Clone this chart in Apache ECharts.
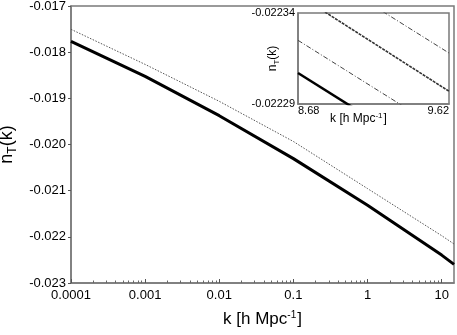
<!DOCTYPE html>
<html>
<head>
<meta charset="utf-8">
<script src="https://cdn.jsdelivr.net/npm/echarts@6/dist/echarts.min.js"></script>
<style>
  html, body { margin: 0; padding: 0; background: #fff; }
  #chart { width: 457px; height: 335px; }
</style>
</head>
<body>
<div id="chart"></div>
<script>
// main panel: k in h/Mpc (log axis), n_T(k)
const kValues = [0.0001, 0.001, 0.01, 0.1, 1, 10, 14.66];
const ntSolid = [-0.017766, -0.018526, -0.019376, -0.020306, -0.021316, -0.022396, -0.022596];
const ntDotted = [-0.017505, -0.018265, -0.019065, -0.019935, -0.020955, -0.021975, -0.022155];
const xMajorTicks = [0.0001, 0.001, 0.01, 0.1, 1, 10];
const xMinorTicks = [];
xMajorTicks.forEach((d) => { for (let m = 2; m <= 9; m++) xMinorTicks.push(+(d * m).toPrecision(3)); });

// inset: zoom near k ~ 9
const insetK = [8.68, 9.62];
const insetSolid = [-0.022307, -0.022255];
const insetDashDot1 = [-0.022325, -0.022273];
const insetDashed = [-0.022350, -0.022297];
const insetDashDot2 = [-0.022370, -0.022318];
const insetYTicks = [-0.02234, -0.02229];

const FONT = 'Liberation Sans';
const pair = (xs, ys) => xs.map((x, i) => [x, ys[i]]);
const noBounds = { outerBoundsMode: 'none', containLabel: false };

const chart = echarts.init(document.getElementById('chart'));

const option = {
  backgroundColor: '#fff',
  animation: false,
  textStyle: { fontFamily: FONT, color: '#000' },
  grid: [
    Object.assign({ left: 71, right: 3, top: 6, bottom: 52, show: true, borderColor: '#7a7a7a', borderWidth: 1.5, backgroundColor: '#fff' }, noBounds),
    Object.assign({ left: 298, top: 13, width: 151, height: 91, show: true, borderColor: '#7a7a7a', borderWidth: 1.5, backgroundColor: '#fff' }, noBounds)
  ],
  xAxis: [
    {
      type: 'log', gridIndex: 0, min: 0.0001, max: 14.66, logBase: 10,
      name: '{n|k [h Mpc}{p|-1}{n|]}', nameLocation: 'middle', nameGap: 27,
      nameTextStyle: {
        rich: {
          n: { fontSize: 17, fontFamily: FONT, color: '#000' },
          p: { fontSize: 10, fontFamily: FONT, color: '#000', padding: [0, 1, 9, 0] }
        }
      },
      axisLine: { lineStyle: { color: '#7a7a7a', width: 1.5 } },
      axisTick: { inside: true, length: 4, customValues: xMajorTicks, lineStyle: { color: '#555' } },
      axisLabel: {
        customValues: xMajorTicks, margin: 6, fontSize: 13, color: '#000', fontFamily: FONT,
        formatter: (v) => String(+(+v).toPrecision(6))
      },
      splitLine: { show: false }
    },
    {
      type: 'log', gridIndex: 0, min: 0.0001, max: 14.66, logBase: 10, position: 'bottom',
      axisLine: { show: false },
      axisTick: { inside: true, length: 2.5, customValues: xMinorTicks, lineStyle: { color: '#666' } },
      axisLabel: { show: false },
      splitLine: { show: false }
    },
    {
      type: 'value', gridIndex: 1, min: 8.68, max: 9.62,
      name: '{n|k [h Mpc}{p|-1}{n|]}', nameLocation: 'middle', nameGap: 8, nameMoveOverlap: false,
      nameTextStyle: {
        padding: [0, 30, 0, 0],
        rich: {
          n: { fontSize: 12, fontFamily: FONT, color: '#000' },
          p: { fontSize: 8, fontFamily: FONT, color: '#000', padding: [0, 1, 6, 0] }
        }
      },
      axisLine: { lineStyle: { color: '#7a7a7a', width: 1.5 } },
      axisTick: { show: false },
      axisLabel: {
        customValues: insetK, margin: 1, fontSize: 11, color: '#000', fontFamily: FONT,
        alignMinLabel: 'left', alignMaxLabel: 'right',
        formatter: (v) => v.toFixed(2)
      },
      splitLine: { show: false }
    }
  ],
  yAxis: [
    {
      type: 'value', gridIndex: 0, min: -0.023, max: -0.017, interval: 0.001,
      name: '{n|n}{s|T}{n|(k)}', nameLocation: 'middle', nameGap: 50,
      nameTextStyle: {
        rich: {
          n: { fontSize: 18, fontFamily: FONT, color: '#000', lineHeight: 20, verticalAlign: 'top' },
          s: { fontSize: 12, fontFamily: FONT, color: '#000', lineHeight: 12, verticalAlign: 'bottom' }
        }
      },
      axisLine: { lineStyle: { color: '#7a7a7a', width: 1.5 } },
      axisTick: { length: 3, lineStyle: { color: '#555' } },
      axisLabel: { margin: 5, fontSize: 13, color: '#000', fontFamily: FONT, formatter: (v) => v.toFixed(3) },
      splitLine: { show: false }
    },
    {
      type: 'value', gridIndex: 1, min: -0.02234, max: -0.02229, inverse: true,
      name: '{n|n}{s|T}{n|(k)}', nameLocation: 'middle', nameGap: 17, nameMoveOverlap: false,
      nameTextStyle: {
        rich: {
          n: { fontSize: 12, fontFamily: FONT, color: '#000', lineHeight: 14, verticalAlign: 'top' },
          s: { fontSize: 8, fontFamily: FONT, color: '#000', lineHeight: 8, verticalAlign: 'bottom' }
        }
      },
      axisLine: { lineStyle: { color: '#7a7a7a', width: 1.5 } },
      axisTick: { show: false },
      axisLabel: { customValues: insetYTicks, margin: 3, fontSize: 11, color: '#000', fontFamily: FONT, formatter: (v) => v.toFixed(5) },
      splitLine: { show: false }
    }
  ],
  series: [
    {
      type: 'line', xAxisIndex: 0, yAxisIndex: 0, data: pair(kValues, ntDotted),
      symbol: 'none', lineStyle: { color: '#555', width: 1, type: [1.5, 1.5] }
    },
    {
      type: 'line', xAxisIndex: 0, yAxisIndex: 0, data: pair(kValues, ntSolid),
      symbol: 'none', lineStyle: { color: '#000', width: 3 }
    },
    {
      type: 'line', xAxisIndex: 2, yAxisIndex: 1, data: pair(insetK, insetSolid), clip: true,
      symbol: 'none', lineStyle: { color: '#000', width: 2.5 }
    },
    {
      type: 'line', xAxisIndex: 2, yAxisIndex: 1, data: pair(insetK, insetDashDot1), clip: true,
      symbol: 'none', lineStyle: { color: '#444', width: 1, type: [5, 2, 1, 2] }
    },
    {
      type: 'line', xAxisIndex: 2, yAxisIndex: 1, data: pair(insetK, insetDashed), clip: true,
      symbol: 'none', lineStyle: { color: '#333', width: 1.6, type: [3, 1] }
    },
    {
      type: 'line', xAxisIndex: 2, yAxisIndex: 1, data: pair(insetK, insetDashDot2), clip: true,
      symbol: 'none', lineStyle: { color: '#444', width: 1, type: [5, 2, 1, 2] }
    }
  ]
};

chart.setOption(option);
</script>
</body>
</html>
